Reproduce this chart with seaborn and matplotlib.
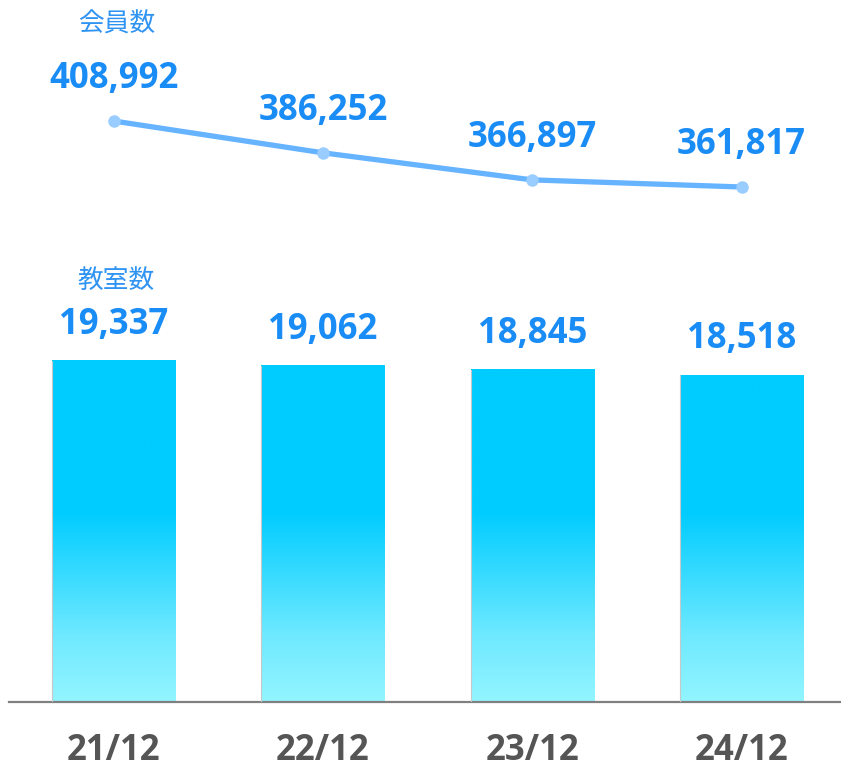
import numpy as np
import pandas as pd
import matplotlib
matplotlib.use("Agg")
import matplotlib.pyplot as plt
from matplotlib.colors import LinearSegmentedColormap, Normalize
import seaborn as sns

# ---- data ----
periods = ["21/12", "22/12", "23/12", "24/12"]
classrooms = [19337, 19062, 18845, 18518]      # 教室数 (bars)
members = [408992, 386252, 366897, 361817]     # 会員数 (line)
bar_title = "教室数"
line_title = "会員数"

sns.set_style("white")
plt.rcParams["font.family"] = ["Open Sans", "Noto Sans CJK JP", "DejaVu Sans"]

BLUE_TXT = "#1a8cf5"
LBL_TXT = "#2f93f2"
GRAY_TXT = "#555555"

fig = plt.figure(figsize=(8.41, 7.67), dpi=100)
ax = fig.add_axes([9 / 841, 65 / 767, 832 / 841, 702 / 767])

df = pd.DataFrame({"period": periods, "classrooms": classrooms,
                   "members": members, "pos": np.arange(len(periods))})

sns.barplot(data=df, x="period", y="classrooms", color="#00CCFF",
            width=0.59, ax=ax, saturation=1)

# gradient fill for bars
cmap = LinearSegmentedColormap.from_list(
    "bargrad", [(0.0, "#93F5FF"), (0.35, "#6EE9FF"), (1.0, "#00CCFF")])
norm = Normalize(vmin=0, vmax=10800, clip=True)
for p in list(ax.patches):
    x0, w, h = p.get_x(), p.get_width(), p.get_height()
    ys = np.linspace(h, 0, 400)
    img = cmap(norm(ys))[:, None, :]
    ax.imshow(img, extent=[x0, x0 + w, 0, h], aspect="auto", zorder=2,
              interpolation="bicubic")
    p.set_facecolor("none")
    ax.plot([x0, x0], [0, h], color="#c8c8c8", lw=0.8, zorder=3)

ax.set_xlim(-0.5, 3.475)
ax.set_ylim(0, 39808)

for i, v in enumerate(classrooms):
    ax.annotate(f"{v:,}", xy=(i, v), xytext=(0, 19.5), textcoords="offset points",
                ha="center", va="baseline", fontsize=25, fontweight="bold",
                color=BLUE_TXT)
ax.annotate(bar_title, xy=(0, classrooms[0]), xytext=(2, 58), textcoords="offset points",
            ha="center", va="center", fontsize=18.5, color=LBL_TXT,
            family=["Noto Sans CJK JP", "DejaVu Sans"])

for s in ["top", "left", "right"]:
    ax.spines[s].set_visible(False)
ax.spines["bottom"].set_color("#808080")
ax.spines["bottom"].set_linewidth(1.6)
ax.set_yticks([])
ax.set_xlabel("")
ax.set_ylabel("")
ax.tick_params(axis="x", length=0, pad=22, labelsize=25, labelcolor=GRAY_TXT)
for t in ax.get_xticklabels():
    t.set_fontweight("bold")

# line on twin axis
ax2 = ax.twinx()
sns.lineplot(data=df, x="pos", y="members", ax=ax2, color="#66B3FF", lw=3.8,
             marker="o", markersize=9, markerfacecolor="#99CCFF",
             markeredgewidth=0, zorder=4)
ax2.set_ylim(-6289, 495479)
ax2.set_xlim(-0.5, 3.475)
ax2.set_yticks([])
ax2.set_ylabel("")
ax2.set_xlabel("")
for s in ["top", "left", "right", "bottom"]:
    ax2.spines[s].set_visible(False)

for i, v in enumerate(members):
    ax2.annotate(f"{v:,}", xy=(i, v), xytext=(0, 23.8), textcoords="offset points",
                 ha="center", va="baseline", fontsize=25, fontweight="bold",
                 color=BLUE_TXT)
ax2.annotate(line_title, xy=(0, members[0]), xytext=(2.5, 69.5), textcoords="offset points",
             ha="center", va="center", fontsize=18.5, color=LBL_TXT,
             family=["Noto Sans CJK JP", "DejaVu Sans"])

fig.savefig("out.png", dpi=100)
